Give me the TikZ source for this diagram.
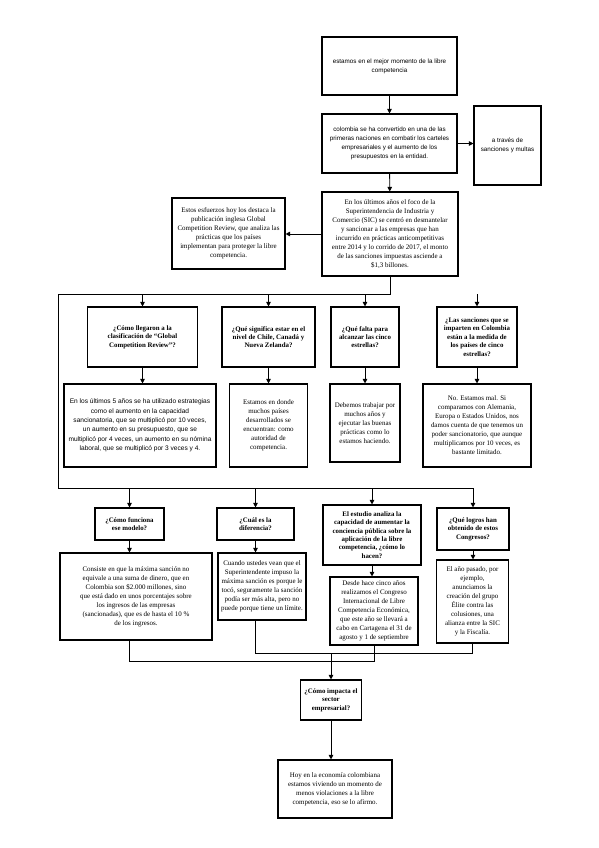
\documentclass[tikz,border=0pt]{standalone}
\usepackage{fontspec}
\setmainfont{Liberation Serif}
\setsansfont{Liberation Sans}
\usetikzlibrary{arrows.meta}

\begin{document}
\begin{tikzpicture}[
    x=1bp, y=-1bp,
    box/.style={rectangle, draw=black, line width=1.1bp, fill=white, align=center, inner sep=2bp, font=\fontsize{7}{9}\selectfont},
    sbox/.style={box, font=\sffamily\fontsize{6.3}{8.8}\selectfont},
    qbox/.style={box, font=\bfseries\fontsize{6.9}{8.4}\selectfont},
    arrow/.style={-{Triangle[length=4.5bp,width=4.5bp]}, line width=0.9bp},
    wire/.style={line width=0.9bp}
]
\useasboundingbox (0,0) rectangle (599,848);

% cabecera
\node[sbox, minimum width=135bp, minimum height=58bp] (top) at (389.5,66) {estamos en el mejor momento de la libre\\competencia};
\node[sbox, minimum width=135bp, minimum height=59bp] (col) at (389.5,143.5) {colombia se ha convertido en una de las\\primeras naciones en combatir los carteles\\empresariales y el aumento de los\\presupuestos en la entidad.};
\node[sbox, minimum width=67bp, minimum height=79bp] (side) at (507.5,145.5) {a través de\\sanciones y multas};
\node[box, minimum width=136bp, minimum height=84bp] (sic) at (390,234) {En los últimos años el foco de la\\Superintendencia de Industria y\\Comercio (SIC) se centró en desmantelar\\y sancionar a las empresas que han\\incurrido en prácticas anticompetitivas\\entre 2014 y lo corrido de 2017, el monto\\de las sanciones impuestas asciende a\\\$1,3 billones.};
\node[box, minimum width=113bp, minimum height=71bp] (gcr) at (228.5,233.5) {Estos esfuerzos hoy los destaca la\\publicación inglesa Global\\Competition Review, que analiza las\\prácticas que los países\\implementan para proteger la libre\\competencia.};

% preguntas 1
\node[qbox, minimum width=110bp, minimum height=60bp] (q1) at (142.5,337) {¿Cómo llegaron a la\\clasificación de “Global\\Competition Review”?};
\node[qbox, minimum width=93bp, minimum height=60bp] (q2) at (268.5,337) {¿Qué significa estar en el\\nivel de Chile, Canadá y\\Nueva Zelanda?};
\node[qbox, minimum width=68bp, minimum height=60bp] (q3) at (365,337) {¿Qué falta para\\alcanzar las cinco\\estrellas?};
\node[qbox, minimum width=80bp, minimum height=60bp] (q4) at (477,337) {¿Las sanciones que se\\imparten en Colombia\\están a la medida de\\los países de cinco\\estrellas?};

% respuestas 1
\node[sbox, font=\sffamily\fontsize{6.6}{9.4}\selectfont, minimum width=152bp, minimum height=83bp] (a1) at (140,425.5) {En los últimos 5 años se ha utilizado estrategias\\como el aumento en la capacidad\\sancionatoria, que se multiplicó por 10 veces,\\un aumento en su presupuesto, que se\\multiplicó por 4 veces, un aumento en su nómina\\laboral, que se multiplicó por 3 veces y 4.};
\node[box, minimum width=78bp, minimum height=83bp] (a2) at (268.5,425.5) {Estamos en donde\\muchos países\\desarrollados se\\encuentran: como\\autoridad de\\competencia.};
\node[box, minimum width=70bp, minimum height=78bp] (a3) at (365,423) {Debemos trabajar por\\muchos años y\\ejecutar las buenas\\prácticas como lo\\estamos haciendo.};
\node[box, minimum width=108bp, minimum height=83bp] (a4) at (477,425.5) {No. Estamos mal. Si\\comparamos con Alemania,\\Europa o Estados Unidos, nos\\damos cuenta de que tenemos un\\poder sancionatorio, que aunque\\multiplicamos por 10 veces, es\\bastante limitado.};

% preguntas 2
\node[qbox, minimum width=69bp, minimum height=32bp] (r1) at (129.5,524) {¿Cómo funciona\\ese modelo?};
\node[qbox, minimum width=77bp, minimum height=32bp] (r2) at (255.5,524) {¿Cuál es la\\diferencia?};
\node[qbox, minimum width=98bp, minimum height=60bp] (r3) at (372,535) {El estudio analiza la\\capacidad de aumentar la\\conciencia pública sobre la\\aplicación de la libre\\competencia, ¿cómo lo\\hacen?};
\node[qbox, minimum width=72bp, minimum height=42bp] (r4) at (473,529) {¿Qué logros han\\obtenido de estos\\Congresos?};

% respuestas 2
\node[box, minimum width=152bp, minimum height=87bp] (b1) at (136,596.5) {Consiste en que la máxima sanción no\\equivale a una suma de dinero, que en\\Colombia son \$2.000 millones, sino\\que está dado en unos porcentajes sobre\\los ingresos de las empresas\\(sancionadas), que es de hasta el 10 \%\\de los ingresos.};
\node[box, minimum width=88bp, minimum height=67bp] (b2) at (262,586.5) {Cuando ustedes vean que el\\Superintendente impuso la\\máxima sanción es porque le\\tocó, seguramente la sanción\\podía ser más alta, pero no\\puede porque tiene un límite.};
\node[box, minimum width=88bp, minimum height=68bp] (b3) at (374,611) {Desde hace cinco años\\realizamos el Congreso\\Internacional de Libre\\Competencia Económica,\\que este año se llevará a\\cabo en Cartagena el 31 de\\agosto y 1 de septiembre};
\node[box, minimum width=72bp, minimum height=83bp] (b4) at (472.5,601.5) {El año pasado, por\\ejemplo,\\anunciamos la\\creación del grupo\\Élite contra las\\colusiones, una\\alianza entre la SIC\\y la Fiscalía.};

% cierre
\node[qbox, minimum width=61bp, minimum height=40bp] (imp) at (331,700) {¿Cómo impacta el\\sector\\empresarial?};
\node[box, minimum width=114bp, minimum height=58bp] (fin) at (335,789) {Hoy en la economía colombiana\\estamos viviendo un momento de\\menos violaciones a la libre\\competencia, eso se lo afirmo.};

\coordinate (split) at (390,294);
\coordinate (corner) at (58,294);
\coordinate (bus) at (58,488);
\coordinate (m1) at (331,653);
\coordinate (m2) at (331,661);

\draw[arrow] (top) -- (col);
\draw[arrow] (col.east) -- (col.east -| side.west);
\draw[arrow] (col) -- (sic);
\draw[arrow] (sic.west) -- (sic.west -| gcr.east);

\draw[wire] (sic.south) -- (split) -- (corner) -- (bus) -- (bus -| r4.north);
\foreach \q in {q1,q2,q3,q4}
    \draw[arrow] (split -| \q.north) -- (\q.north);
\draw[arrow] (q1) -- (q1 |- a1.north);
\draw[arrow] (q2) -- (q2 |- a2.north);
\draw[arrow] (q3) -- (q3 |- a3.north);
\draw[arrow] (q4) -- (q4 |- a4.north);

\foreach \r in {r1,r2,r3,r4}
    \draw[arrow] (bus -| \r.north) -- (\r.north);
\draw[arrow] (r1) -- (r1 |- b1.north);
\draw[arrow] (r2) -- (r2 |- b2.north);
\draw[arrow] (r3) -- (r3 |- b3.north);
\draw[arrow] (r4) -- (r4 |- b4.north);

\draw[wire] (b1.south -| r1) |- (m2);
\draw[wire] (b2.south -| r2) |- (m1);
\draw[wire] (b3.south) |- (m2);
\draw[wire] (b4.south) |- (m1);
\draw[arrow] (m1) -- (imp.north);
\draw[arrow] (imp) -- (imp |- fin.north);
\end{tikzpicture}
\end{document}
